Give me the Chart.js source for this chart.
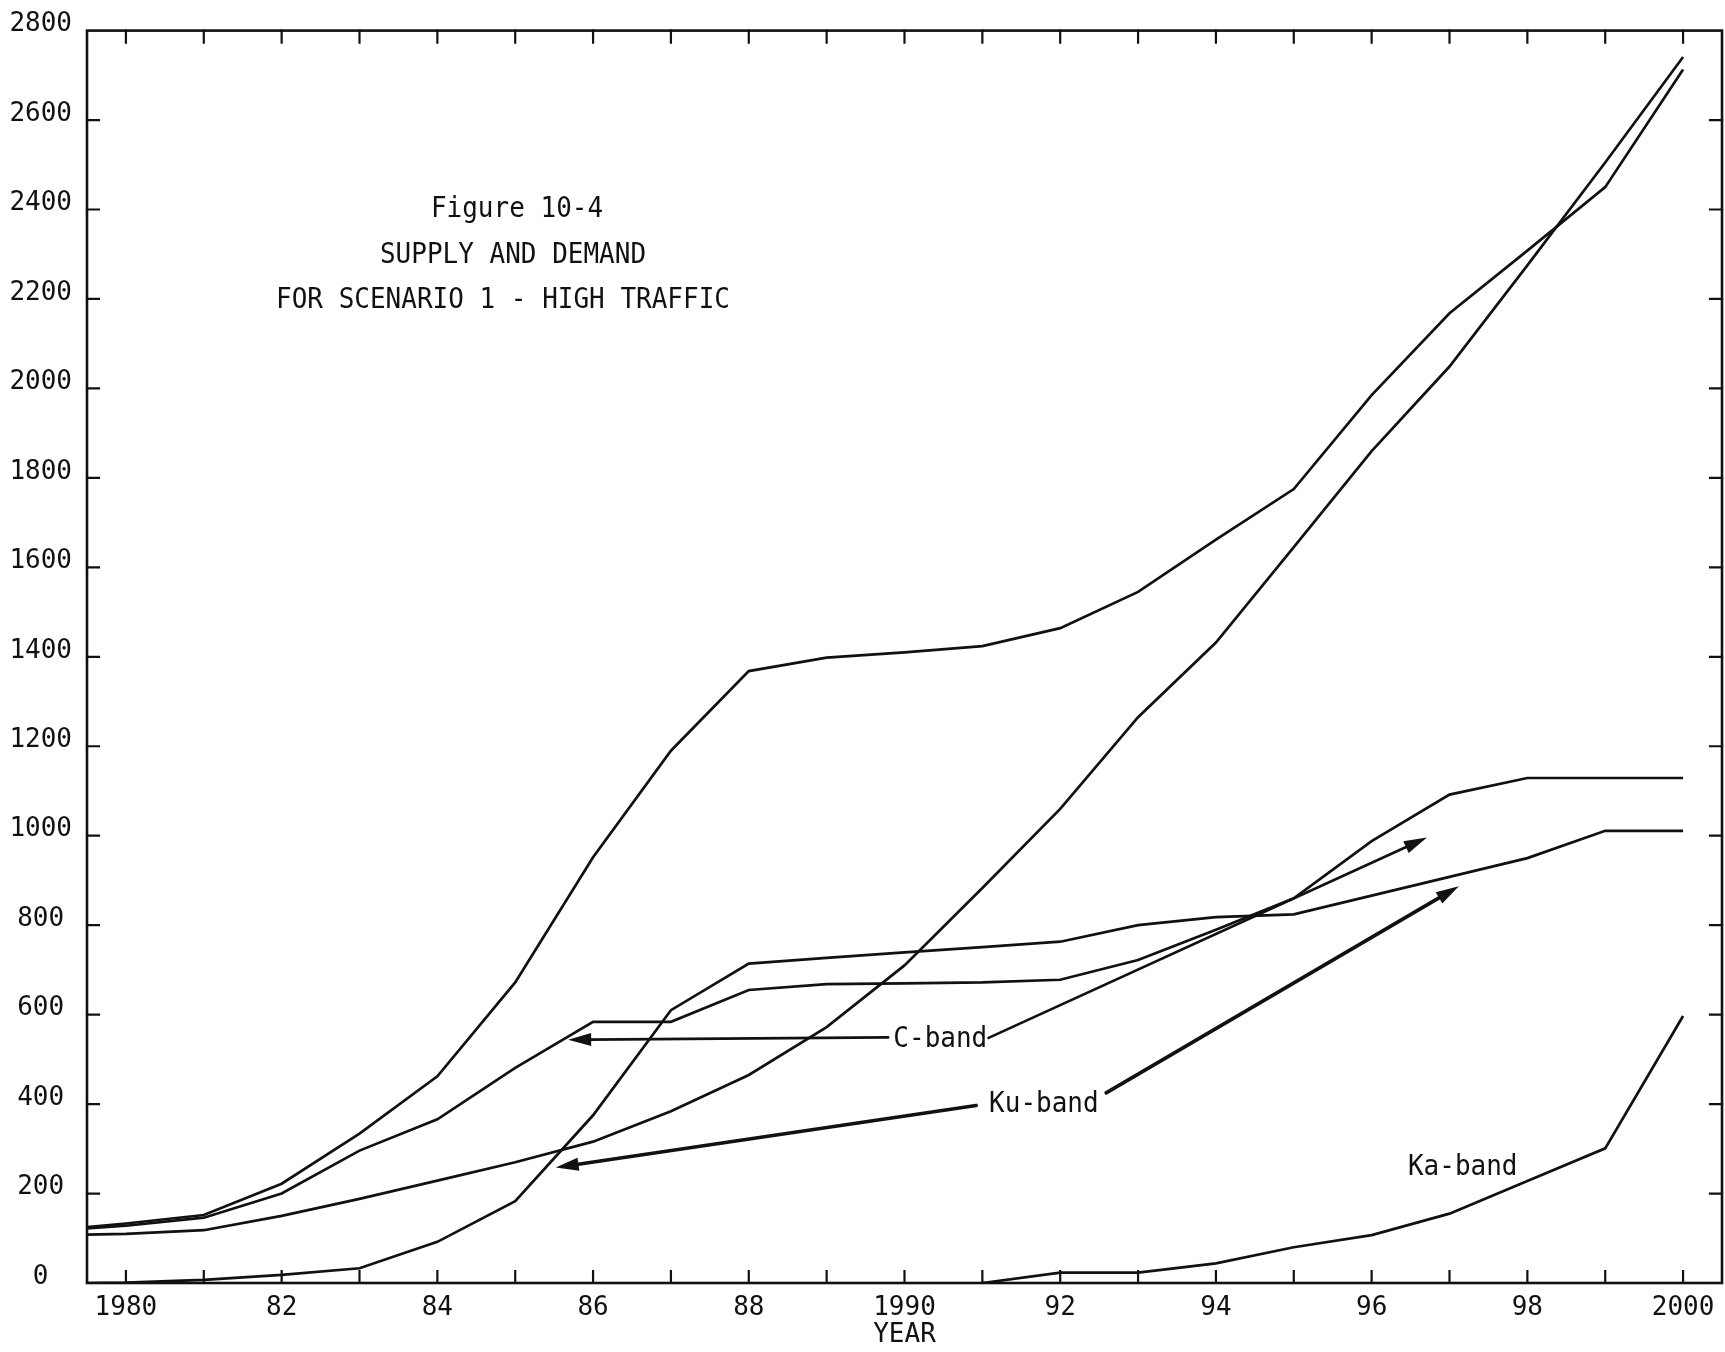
<!DOCTYPE html>
<html>
<head>
<meta charset="utf-8">
<title>Supply and Demand - Scenario 1, High Traffic</title>
<script src="https://cdn.jsdelivr.net/npm/chart.js@4.4.1/dist/chart.umd.min.js"></script>
<style>
  html, body { margin: 0; padding: 0; background: #ffffff; }
  canvas { display: block; }
</style>
</head>
<body>
<canvas id="chart" width="1725" height="1352"></canvas>
<script>
// ---- data -------------------------------------------------------------
// Point positions in years; the first point sits on the left frame edge.
const years = [1979.5, 1980, 1981, 1982, 1983, 1984, 1985, 1986, 1987, 1988, 1989,
               1990, 1991, 1992, 1993, 1994, 1995, 1996, 1997, 1998, 1999, 2000];

// Upper S-curve (plateau near 1400 around 1990)
const totalDemand = [125, 133, 152, 222, 334, 462, 672, 952, 1190, 1368, 1398,
                     1410, 1424, 1464, 1545, 1662, 1775, 1985, 2168, 2308, 2450, 2713];
// Steadily accelerating curve ending at the top
const totalSupply = [108, 110, 118, 150, 188, 229, 270, 316, 384, 465, 572,
                     710, 883, 1060, 1265, 1432, 1645, 1860, 2049, 2275, 2505, 2741];
// C-band curve (plateaus near 585, 670 and 1130)
const cBand = [122, 128, 146, 200, 296, 366, 481, 584, 584, 655, 668,
               670, 672, 678, 722, 790, 860, 988, 1092, 1129, 1129, 1129];
// Ku-band curve (steep rise 1985-87, plateau near 1010 at the end)
const kuBand = [0, 1, 7, 18, 33, 92, 183, 375, 610, 714, 727,
                739, 751, 763, 800, 818, 824, 866, 908, 950, 1011, 1011];
// Ka-band curve (starts in 1991)
const kaBand = [null, null, null, null, null, null, null, null, null, null, null,
                null, 0, 23, 23, 44, 80, 107, 155, 228, 301, 597];

// Axis labelling
const xLabelYears = [1980, 1982, 1984, 1986, 1988, 1990, 1992, 1994, 1996, 1998, 2000];
const xLabelText  = ['1980', '82', '84', '86', '88', '1990', '92', '94', '96', '98', '2000'];
const yTickValues = [0, 200, 400, 600, 800, 1000, 1200, 1400, 1600, 1800, 2000, 2200, 2400, 2600, 2800];
const xAxisTitle  = 'YEAR';
const titleLines  = ['Figure 10-4', 'SUPPLY AND DEMAND', 'FOR SCENARIO 1 - HIGH TRAFFIC'];
const bandNames   = ['C-band', 'Ku-band', 'Ka-band'];

// ---- styling ----------------------------------------------------------
const ink  = '#111111';
const mono = '"DejaVu Sans Mono", "Liberation Mono", monospace';
const textSize = 26;

function series(values) {
  return years.map((x, i) => ({ x: x, y: values[i] }));
}

const lineStyle = {
  borderColor: ink,
  borderWidth: 2.7,
  pointRadius: 0,
  pointHoverRadius: 0,
  fill: false,
  tension: 0,
  spanGaps: false
};

// Frame around the plot with inward tick marks on all four sides
const framePlugin = {
  id: 'frame',
  afterDatasetsDraw(chart, args, opts) {
    const { ctx, chartArea: a } = chart;
    const xs = chart.scales.x, ys = chart.scales.y;
    ctx.save();
    ctx.strokeStyle = ink;
    ctx.lineWidth = opts.lineWidth;
    ctx.lineCap = 'square';
    ctx.strokeRect(a.left, a.top, a.right - a.left, a.bottom - a.top);
    ctx.lineWidth = opts.tickWidth;
    ctx.beginPath();
    // year boundaries fall halfway between the labelled years
    for (let v = xs.min + 0.5; v < xs.max; v += 1) {
      const px = xs.getPixelForValue(v);
      ctx.moveTo(px, a.bottom); ctx.lineTo(px, a.bottom - opts.tickLength);
      ctx.moveTo(px, a.top);    ctx.lineTo(px, a.top + opts.tickLength);
    }
    yTickValues.forEach(v => {
      if (v <= ys.min || v >= ys.max) return;
      const py = ys.getPixelForValue(v);
      ctx.moveTo(a.left, py);  ctx.lineTo(a.left + opts.tickLength, py);
      ctx.moveTo(a.right, py); ctx.lineTo(a.right - opts.tickLength, py);
    });
    ctx.stroke();
    ctx.restore();
  }
};

// Typewriter-style text: the face is drawn slightly taller than wide
function tallText(ctx, text, x, y, stretch) {
  ctx.save();
  ctx.translate(x, y);
  ctx.scale(1, stretch);
  ctx.fillText(text, 0, 0);
  ctx.restore();
}

// Figure caption, band names and pointer arrows
const notesPlugin = {
  id: 'notes',
  afterDatasetsDraw(chart, args, opts) {
    const { ctx } = chart;
    const xs = chart.scales.x, ys = chart.scales.y;
    ctx.save();
    ctx.fillStyle = ink;
    ctx.strokeStyle = ink;
    ctx.font = textSize + 'px ' + mono;
    ctx.textBaseline = 'alphabetic';
    ctx.textAlign = 'center';

    titleLines.forEach((t, i) => {
      const p = opts.title[i];
      tallText(ctx, t, p.x, p.y, opts.stretch);
    });

    opts.labels.forEach((l, i) => {
      tallText(ctx, bandNames[i], xs.getPixelForValue(l.x), ys.getPixelForValue(l.y), opts.stretch);
    });

    opts.arrows.forEach(ar => {
      const x0 = xs.getPixelForValue(ar.from[0]), y0 = ys.getPixelForValue(ar.from[1]);
      const x1 = xs.getPixelForValue(ar.to[0]),   y1 = ys.getPixelForValue(ar.to[1]);
      const ang = Math.atan2(y1 - y0, x1 - x0);
      const hl = opts.headLength, hw = opts.headWidth;
      const bx = x1 - hl * Math.cos(ang), by = y1 - hl * Math.sin(ang);
      ctx.lineWidth = ar.width;
      ctx.lineCap = 'round';
      ctx.beginPath();
      ctx.moveTo(x0, y0);
      ctx.lineTo(bx + 2 * Math.cos(ang), by + 2 * Math.sin(ang));
      ctx.stroke();
      ctx.beginPath();
      ctx.moveTo(x1, y1);
      ctx.lineTo(bx + hw * Math.sin(ang), by - hw * Math.cos(ang));
      ctx.lineTo(bx - hw * Math.sin(ang), by + hw * Math.cos(ang));
      ctx.closePath();
      ctx.fill();
    });
    ctx.restore();
  }
};

new Chart(document.getElementById('chart'), {
  type: 'line',
  data: {
    datasets: [
      { label: 'Total demand', data: series(totalDemand), ...lineStyle },
      { label: 'Total supply', data: series(totalSupply), ...lineStyle },
      { label: 'C-band',       data: series(cBand),       ...lineStyle },
      { label: 'Ku-band',      data: series(kuBand),      ...lineStyle },
      { label: 'Ka-band',      data: series(kaBand),      ...lineStyle }
    ]
  },
  options: {
    responsive: false,
    animation: false,
    devicePixelRatio: 1,
    events: [],
    layout: { padding: { top: 26, right: 3, bottom: 0, left: 0 } },
    plugins: {
      legend: { display: false },
      tooltip: { enabled: false },
      title: { display: false },
      frame: { lineWidth: 2.6, tickWidth: 2.2, tickLength: 12 },
      notes: {
        stretch: 1.12,
        title: [ { x: 517, y: 217 }, { x: 513, y: 263 }, { x: 503, y: 308 } ],
        labels: [ { x: 1990.46, y: 527 }, { x: 1991.79, y: 382 }, { x: 1997.17, y: 241 } ],
        arrows: [
          { from: [1989.79, 549], to: [1985.68, 544], width: 2.7 },
          { from: [1991.08, 548], to: [1996.71, 996], width: 2.7 },
          { from: [1990.92, 397], to: [1985.52, 258], width: 3.6 },
          { from: [1992.59, 425], to: [1997.12, 887], width: 3.6 }
        ],
        headLength: 23,
        headWidth: 6.5
      }
    },
    scales: {
      x: {
        type: 'linear',
        position: 'bottom',
        min: 1979.5,
        max: 2000.5,
        grid: { display: false, drawTicks: false },
        border: { display: false },
        afterBuildTicks: s => { s.ticks = xLabelYears.map(v => ({ value: v })); },
        afterFit: s => { s.height = 69; },
        ticks: {
          autoSkip: false,
          maxRotation: 0,
          padding: 10,
          color: ink,
          font: { family: mono, size: textSize },
          callback: (v, i) => xLabelText[i]
        },
        title: {
          display: true,
          text: xAxisTitle,
          color: ink,
          font: { family: mono, size: textSize },
          padding: { top: 0, bottom: 1 }
        }
      },
      y: {
        type: 'linear',
        min: 0,
        max: 2800,
        grid: { display: false, drawTicks: false },
        border: { display: false },
        afterBuildTicks: s => { s.ticks = yTickValues.map(v => ({ value: v })); },
        afterFit: s => { s.width = 87; },
        ticks: {
          padding: 15,
          crossAlign: 'center',
          labelOffset: -6,
          color: ink,
          font: { family: mono, size: textSize },
          callback: v => String(v)
        }
      }
    }
  },
  plugins: [framePlugin, notesPlugin]
});
</script>
</body>
</html>
